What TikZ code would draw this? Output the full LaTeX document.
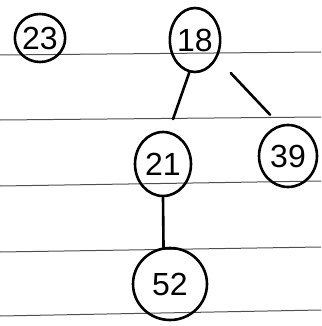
\documentclass[tikz,border=0pt]{standalone}
\usepackage{fontspec}
\setmainfont{Liberation Sans}
\usepackage{xcolor}
\definecolor{ruleline}{HTML}{505050}
\usetikzlibrary{shapes.geometric}

\begin{document}
\begin{tikzpicture}[x=1pt,y=-1pt,
    keynode/.style={draw,ellipse,line width=2.6pt,inner sep=0pt,font=\fontsize{32}{32}\selectfont},
    edge/.style={line width=2.6pt,line cap=round}]
  \useasboundingbox (0,0) rectangle (321,326);
  % Ruled paper
  \foreach \ya/\yb in {55/52,120/117,186/181,252/247,316/310} {
    \draw[ruleline,line width=1pt] (0,\ya) -- (321,\yb);
  }
  % Keys
  \node[keynode,minimum width=45pt,minimum height=48pt] (n23) at (40,38) {23};
  \node[keynode,minimum width=44pt,minimum height=64pt] (n18) at (195,40) {18};
  \node[keynode,minimum width=56pt,minimum height=64pt] (n21) at (163,164) {21};
  \node[keynode,minimum width=58pt,minimum height=62pt] (n39) at (288,156) {39};
  \node[keynode,minimum width=74pt,minimum height=72pt] (n52) at (170,284) {52};
  % Links
  \draw[edge,shorten >=13pt] (n18.-100) -- (n21.80);
  \draw[edge,shorten <=20pt,shorten >=14pt] (n18.-40) -- (n39.105);
  \draw[edge] (n21.south) -- (n52.100);
\end{tikzpicture}
\end{document}
